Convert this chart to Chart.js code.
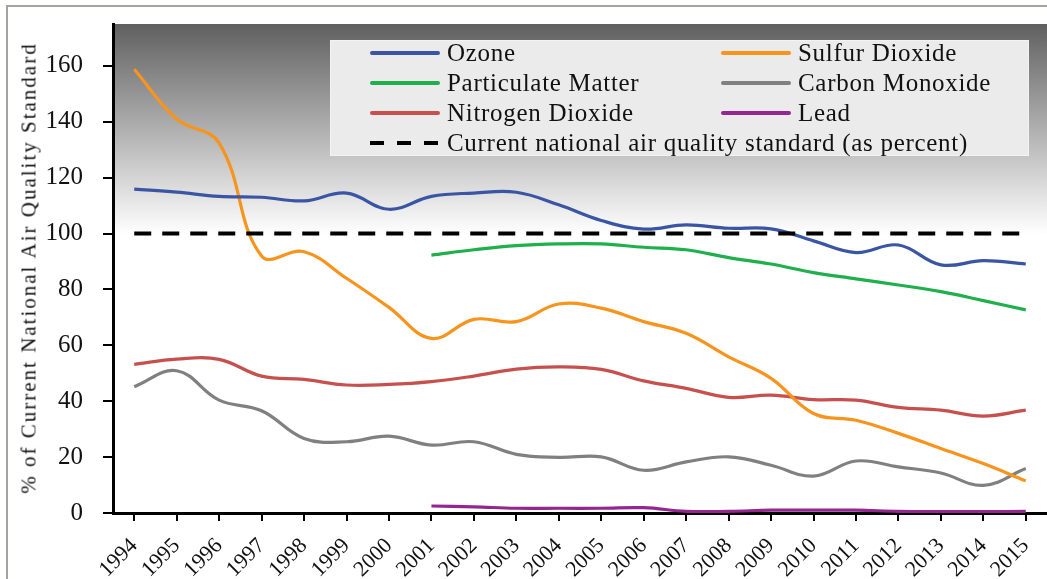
<!DOCTYPE html>
<html>
<head>
<meta charset="utf-8">
<script src="https://cdn.jsdelivr.net/npm/chart.js"></script>
<style>
  html, body { margin: 0; padding: 0; background: #fff; }
  #wrap { position: relative; width: 1047px; height: 579px; overflow: hidden; }
  #frame { position: absolute; left: 6px; top: 5px; right: -10px; bottom: -10px; border-left: 2px solid #a8a29e; border-top: 2px solid #a8a29e; }
  canvas { position: absolute; left: 0; top: 0; }
  #legend { position: absolute; left: 330px; top: 40px; width: 699px; height: 116px; background: #ebebeb; border: 1px solid #f3f3f3; box-sizing: border-box; font-family: "Liberation Serif", serif; font-size: 25px; letter-spacing: 0.7px; color: #111; }
  .item { position: absolute; height: 30px; line-height: 30px; white-space: nowrap; }
  .swatch { position: absolute; left: 0; top: 13px; width: 70px; height: 4px; border-radius: 2px; }
  .item span.txt { position: absolute; left: 77px; top: 0; }
  #ytitle { position: absolute; left: 29px; top: 268px; transform: translate(-50%, -50%) rotate(-90deg); white-space: nowrap; font-family: "Liberation Serif", serif; font-size: 21px; letter-spacing: 2px; color: #111; }
</style>
</head>
<body>
<div id="wrap">
  <div id="frame"></div>
  <canvas id="chart" width="1047" height="579"></canvas>
  <div id="legend"></div>
  <div id="ytitle">% of Current National Air Quality Standard</div>
</div>
<script>
// Data
const years = ["1994", "1995", "1996", "1997", "1998", "1999", "2000", "2001", "2002", "2003", "2004",
  "2005", "2006", "2007", "2008", "2009", "2010", "2011", "2012", "2013", "2014", "2015"]

const ozone = [115.9, 114.8, 113.3, 113, 111.7, 114.5, 108.7, 113.3, 114.5, 114.8, 110.3,
  104.7, 101.6, 103.1, 101.9, 101.7, 97.4, 93.2, 95.9, 88.8, 90.3, 89.1]
const sulfurDioxide = [158.8, 141, 132.4, 92, 93.5, 84, 73.6, 62.5, 69.3, 68.5, 74.8,
  73.3, 68.5, 64.3, 55.9, 48.2, 35.6, 33.2, 28.5, 23.1, 17.7, 11.5]
const particulateMatter = [null, null, null, null, null, null, null, 92.3, 94.2, 95.7, 96.3,
  96.3, 95.1, 94.2, 91.4, 89.1, 86, 83.8, 81.6, 79.2, 76, 72.7]
const carbonMonoxide = [45.2, 50.9, 40.4, 36.6, 26.7, 25.5, 27.5, 24.3, 25.5, 21, 19.9,
  20.1, 15.3, 18.3, 20.1, 17.1, 13.2, 18.6, 16.5, 14.3, 9.9, 15.9]
const nitrogenDioxide = [53.2, 55.1, 55, 49, 47.8, 45.8, 46, 47, 49, 51.5, 52.3,
  51.4, 47.3, 44.6, 41.4, 42.2, 40.6, 40.4, 37.8, 36.8, 34.7, 36.8]
const lead = [null, null, null, null, null, null, null, 2.5, 2.2, 1.7, 1.7,
  1.7, 1.9, 0.6, 0.6, 1, 1, 1, 0.6, 0.5, 0.5, 0.6]
const standardLine = [100, 100, 100, 100, 100, 100, 100, 100, 100, 100, 100,
  100, 100, 100, 100, 100, 100, 100, 100, 100, 100, 100]

const yTicks = [0, 20, 40, 60, 80, 100, 120, 140, 160]

// Legend entries (left column, right column, then the full-width row)
const legendItems = [
  { label: "Ozone", color: "#3b55a5", col: 0, row: 0 },
  { label: "Sulfur Dioxide", color: "#f7941d", col: 1, row: 0 },
  { label: "Particulate Matter", color: "#1fb04c", col: 0, row: 1 },
  { label: "Carbon Monoxide", color: "#808080", col: 1, row: 1 },
  { label: "Nitrogen Dioxide", color: "#c6504e", col: 0, row: 2 },
  { label: "Lead", color: "#93278f", col: 1, row: 2 },
  { label: "Current national air quality standard (as percent)", color: "#000", col: 0, row: 3, dashed: true },
]

const serif = "'Liberation Serif', serif"

// Build HTML legend
function buildLegend() {
  const legend = document.getElementById("legend")
  legendItems.forEach((item) => {
    const el = document.createElement("div")
    el.className = "item"
    el.style.left = (item.col === 0 ? 39 : 390) + "px"
    el.style.top = (-3 + item.row * 30) + "px"

    const swatch = document.createElement("div")
    swatch.className = "swatch"
    if (item.dashed) {
      swatch.style.background = "repeating-linear-gradient(to right, #000 0 14px, transparent 14px 27px)"
      swatch.style.borderRadius = "0"
    } else {
      swatch.style.background = item.color
    }

    const txt = document.createElement("span")
    txt.className = "txt"
    txt.textContent = item.label

    el.appendChild(swatch)
    el.appendChild(txt)
    legend.appendChild(el)
  })
}

// Grey-to-white gradient behind the plot area
const plotBackground = {
  id: "plotBackground",
  beforeDraw(chart) {
    const { ctx, chartArea } = chart
    const grad = ctx.createLinearGradient(0, chartArea.top, 0, chartArea.bottom)
    grad.addColorStop(0, "#606060")
    grad.addColorStop(0.43, "#ffffff")
    grad.addColorStop(1, "#ffffff")
    ctx.save()
    ctx.fillStyle = grad
    ctx.fillRect(chartArea.left, chartArea.top, chartArea.right - chartArea.left, chartArea.bottom - chartArea.top)
    ctx.restore()
  },
}

function lineSet(label, data, color) {
  return {
    label: label,
    data: data,
    borderColor: color,
    backgroundColor: color,
    borderWidth: 3.2,
    pointRadius: 0,
    tension: 0.4,
    fill: false,
  }
}

buildLegend()

const ctx = document.getElementById("chart").getContext("2d")
new Chart(ctx, {
  type: "line",
  data: {
    labels: years,
    datasets: [
      lineSet("Ozone", ozone, "#3b55a5"),
      lineSet("Sulfur Dioxide", sulfurDioxide, "#f7941d"),
      lineSet("Particulate Matter", particulateMatter, "#1fb04c"),
      lineSet("Carbon Monoxide", carbonMonoxide, "#808080"),
      lineSet("Nitrogen Dioxide", nitrogenDioxide, "#c6504e"),
      lineSet("Lead", lead, "#93278f"),
      {
        label: "Current national air quality standard (as percent)",
        data: standardLine,
        borderColor: "#000",
        borderWidth: 4,
        borderDash: [17, 11],
        pointRadius: 0,
        tension: 0,
        order: -1,
      },
    ],
  },
  options: {
    responsive: false,
    animation: false,
    layout: { padding: { top: 24, right: 0, bottom: 0, left: 0 } },
    plugins: {
      legend: { display: false },
      tooltip: { enabled: false },
    },
    scales: {
      x: {
        offset: true,
        grid: { drawOnChartArea: false, drawTicks: true, tickLength: 8, color: "#000", lineWidth: 2 },
        border: { display: true, color: "#000", width: 3 },
        ticks: {
          color: "#111",
          font: { family: serif, size: 22 },
          minRotation: 45,
          maxRotation: 45,
          autoSkip: false,
          padding: 12,
        },
        afterFit(scale) {
          scale.height = 66
          scale.paddingLeft = 0
          scale.paddingRight = 0
        },
      },
      y: {
        min: 0,
        max: 175,
        grid: { drawOnChartArea: false, drawTicks: true, tickLength: 10, color: "#000", lineWidth: 2 },
        border: { display: true, color: "#000", width: 3 },
        ticks: {
          color: "#111",
          font: { family: serif, size: 25 },
          padding: 20,
        },
        afterBuildTicks(scale) {
          scale.ticks = yTicks.map((v) => ({ value: v }))
        },
        afterFit(scale) {
          scale.width = 113
          scale.paddingTop = 0
          scale.paddingBottom = 0
        },
      },
    },
  },
  plugins: [plotBackground],
})
</script>
</body>
</html>
